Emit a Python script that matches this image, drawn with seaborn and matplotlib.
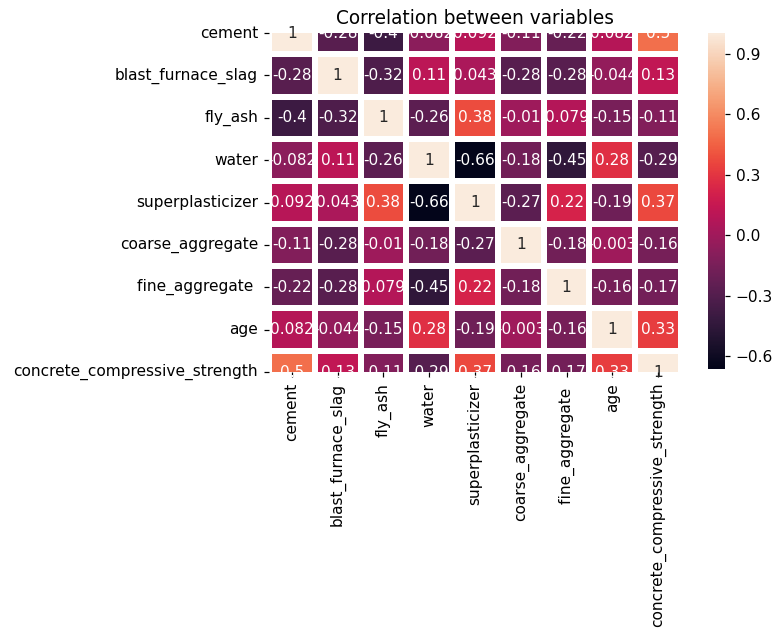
import numpy as np
import pandas as pd
import matplotlib
matplotlib.use("Agg")
import matplotlib.pyplot as plt
import seaborn as sns

# Column names of the concrete dataset
variables = ["cement", "blast_furnace_slag", "fly_ash", "water",
             "superplasticizer", "coarse_aggregate", "fine_aggregate ",
             "age", "concrete_compressive_strength"]

# Pairwise correlation coefficients, one row per variable
cement = [1, -0.28, -0.4, -0.082, 0.092, -0.11, -0.22, 0.082, 0.5]
blast_furnace_slag = [-0.28, 1, -0.32, 0.11, 0.043, -0.28, -0.28, -0.044, 0.13]
fly_ash = [-0.4, -0.32, 1, -0.26, 0.38, -0.01, 0.079, -0.15, -0.11]
water = [-0.082, 0.11, -0.26, 1, -0.66, -0.18, -0.45, 0.28, -0.29]
superplasticizer = [0.092, 0.043, 0.38, -0.66, 1, -0.27, 0.22, -0.19, 0.37]
coarse_aggregate = [-0.11, -0.28, -0.01, -0.18, -0.27, 1, -0.18, -0.003, -0.16]
fine_aggregate = [-0.22, -0.28, 0.079, -0.45, 0.22, -0.18, 1, -0.16, -0.17]
age = [0.082, -0.044, -0.15, 0.28, -0.19, -0.003, -0.16, 1, 0.33]
strength = [0.5, 0.13, -0.11, -0.29, 0.37, -0.16, -0.17, 0.33, 1]

cbar_ticks = [-0.6, -0.3, 0.0, 0.3, 0.6, 0.9]

corr = pd.DataFrame(
    [cement, blast_furnace_slag, fly_ash, water, superplasticizer,
     coarse_aggregate, fine_aggregate, age, strength],
    index=variables, columns=variables)

DPI = 111
fig = plt.figure(figsize=(773 / DPI, 630 / DPI), dpi=DPI)
ax = fig.add_axes([0.348, 0.4095, 0.533, 0.538])
cax = fig.add_axes([0.916, 0.415, 0.022, 0.532])

sns.heatmap(corr, annot=True, linewidths=2.6, linecolor="white",
            ax=ax, cbar_ax=cax, cbar_kws={"ticks": cbar_ticks})

# half rows at top and bottom
ax.set_ylim(len(variables) - 0.5, 0.5)
ax.set_title("Correlation between variables", fontsize=12)
ax.set_xlabel("")
ax.set_ylabel("")
plt.setp(ax.get_xticklabels(), rotation=90)
plt.setp(ax.get_yticklabels(), rotation=0)
cax.set_yticklabels(["\u22120.6", "\u22120.3", "0.0", "0.3", "0.6", "0.9"])

fig.savefig("out.png", dpi=DPI)
